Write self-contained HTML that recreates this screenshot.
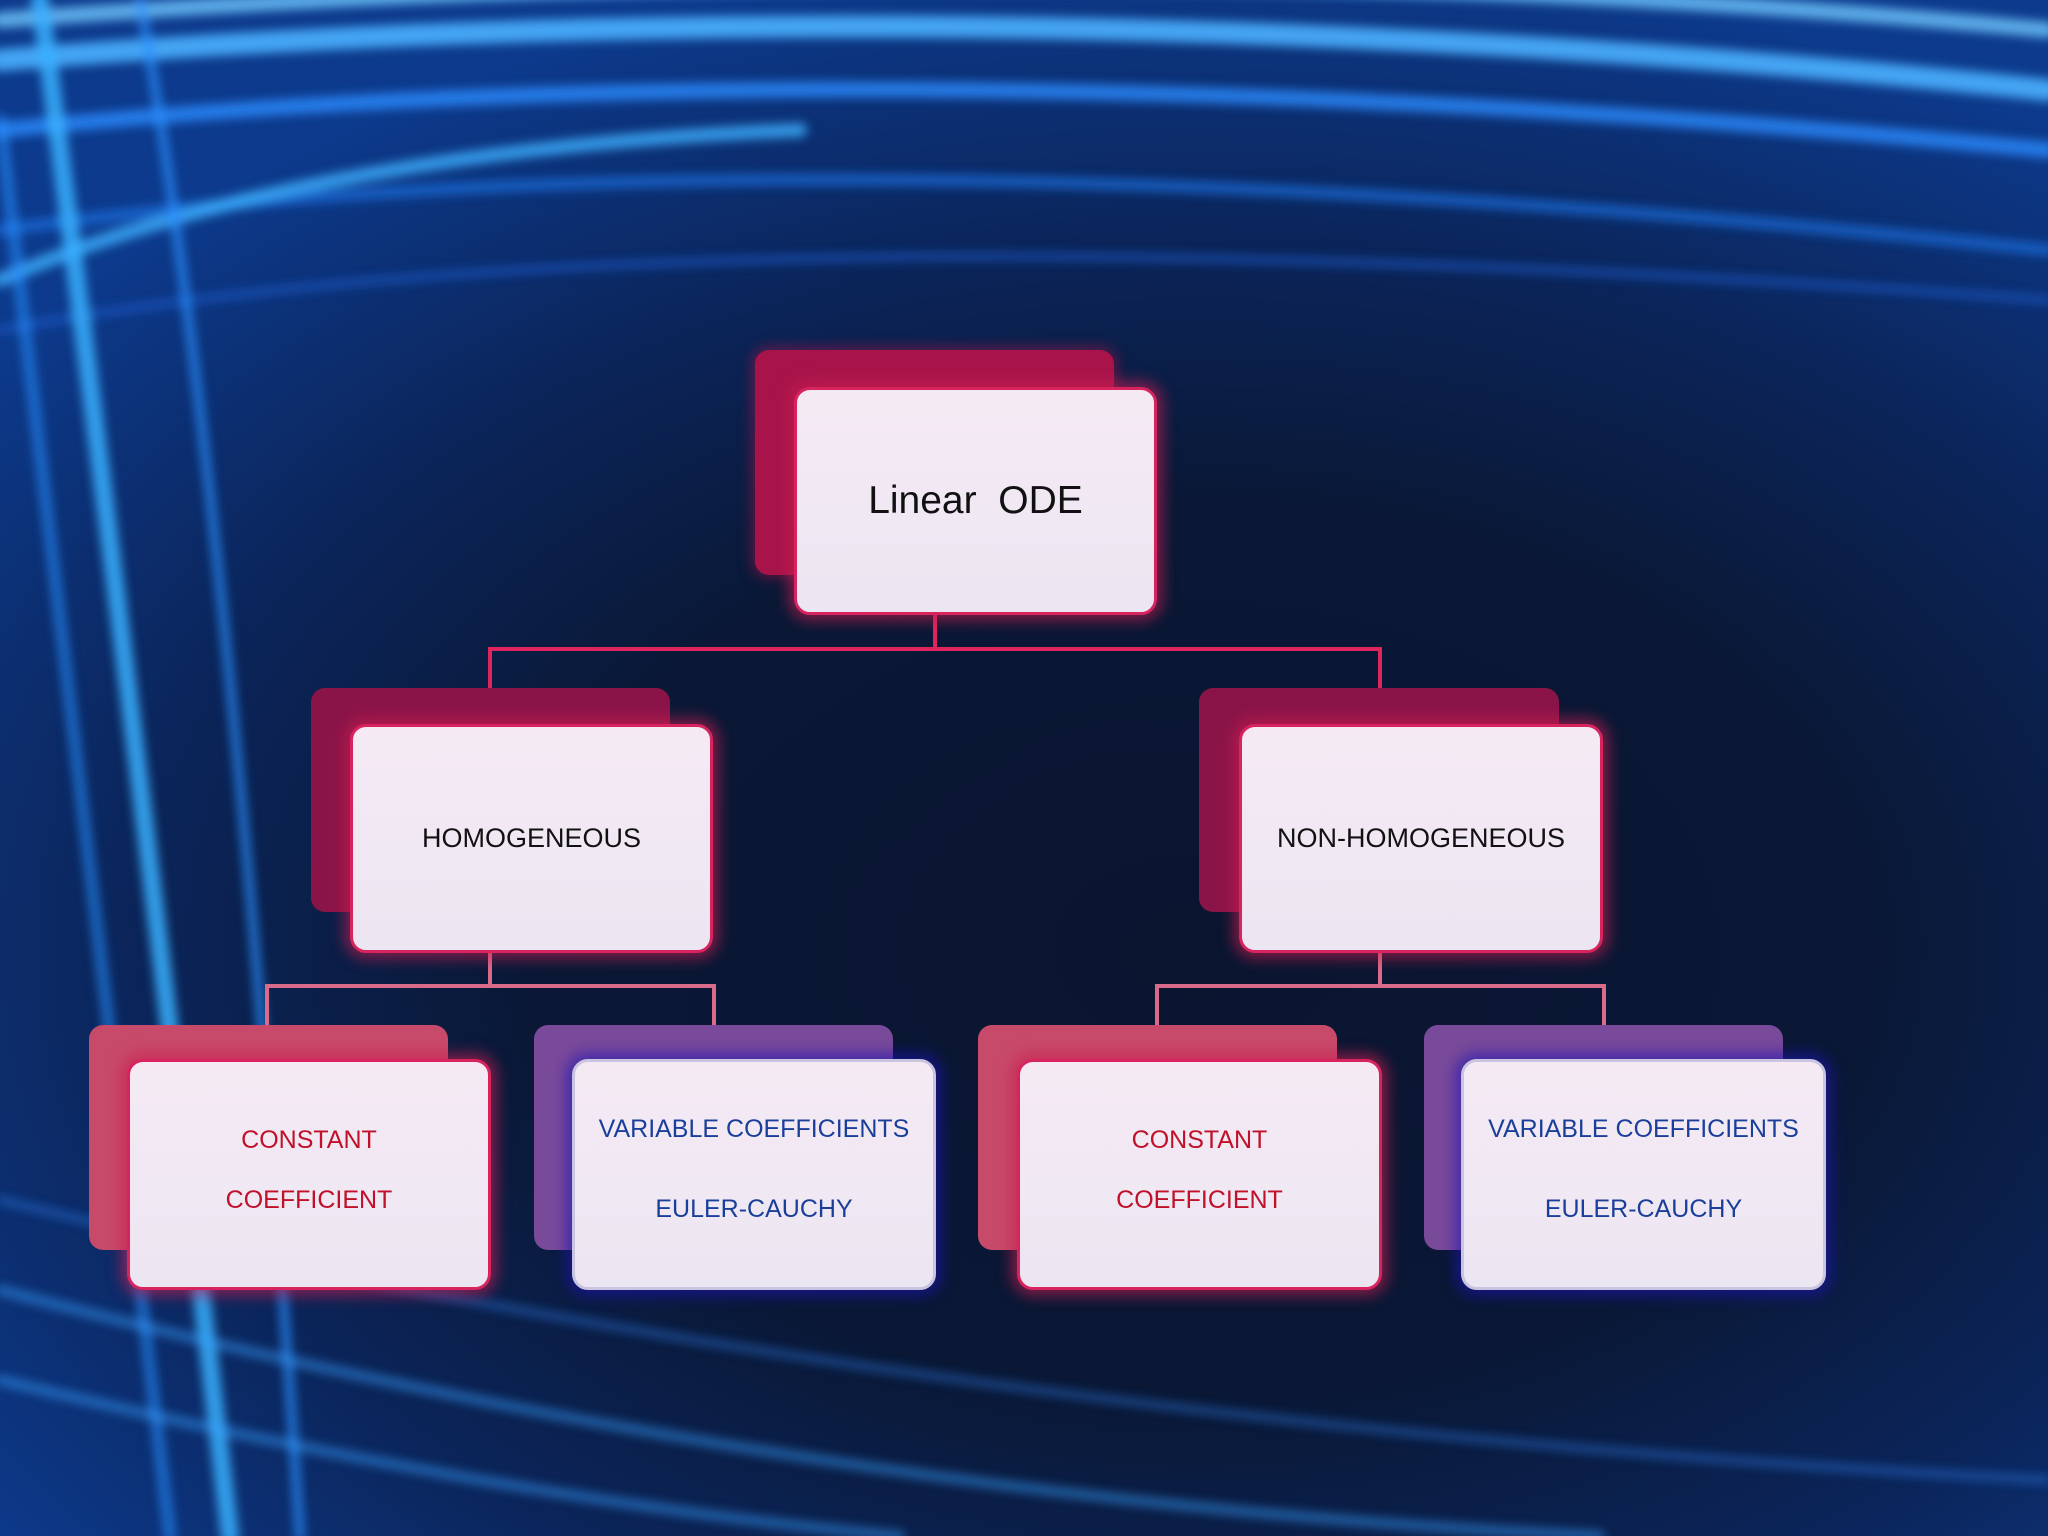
<!DOCTYPE html>
<html><head><meta charset="utf-8"><style>
html,body{margin:0;padding:0}
body{width:2048px;height:1536px;overflow:hidden;position:relative;
background:radial-gradient(ellipse 1500px 1000px at 1200px 950px,#0a1530 0%,#0a1836 45%,#0b2458 70%,#0d3a8c 100%);font-family:"Liberation Sans",sans-serif}
.sh{position:absolute;border-radius:14px}
.bx{position:absolute;border-radius:16px;background:linear-gradient(#f5eaf4,#ece6f2);display:flex;flex-direction:column;align-items:center;justify-content:center;text-align:center;box-sizing:border-box}
.pk{border:3px solid #d8245e;box-shadow:0 0 14px 6px rgba(200,30,80,.6)}
.bl{border:3px solid #c9c4df;box-shadow:0 0 14px 6px rgba(30,20,180,.6)}
.ln{position:absolute;background:#e0245e}
.ln2{position:absolute;background:#d96a8a}
</style></head><body>
<svg width="2048" height="1536" style="position:absolute;left:0;top:0" xmlns="http://www.w3.org/2000/svg">
<defs><filter id="g"><feGaussianBlur stdDeviation="5"/></filter></defs>
<g filter="url(#g)" fill="none" stroke-linecap="round">
<path d="M0 60 Q1000 -20 2048 90" stroke="#4ab0ff" stroke-width="22" opacity=".9"/>
<path d="M0 130 Q900 40 2048 150" stroke="#2c8cff" stroke-width="16" opacity=".8"/>
<path d="M0 230 Q800 120 2048 250" stroke="#1e70e0" stroke-width="12" opacity=".7"/>
<path d="M0 330 Q700 200 2048 300" stroke="#1a5ed0" stroke-width="8" opacity=".6"/>
<path d="M0 20 Q1100 -60 2048 30" stroke="#70c8ff" stroke-width="16" opacity=".8"/>
<path d="M0 280 Q300 150 800 130" stroke="#40b0ff" stroke-width="14" opacity=".8"/>
<path d="M40 0 Q120 600 230 1536" stroke="#3ab0ff" stroke-width="18" opacity=".85"/>
<path d="M140 0 Q230 500 300 1536" stroke="#2a90ff" stroke-width="10" opacity=".7"/>
<path d="M0 120 Q80 800 170 1536" stroke="#2a90ff" stroke-width="12" opacity=".6"/>
<path d="M0 1200 Q900 1420 2048 1480" stroke="#2a80f0" stroke-width="8" opacity=".45"/>
<path d="M0 1290 Q800 1500 1600 1536" stroke="#3aa0ff" stroke-width="10" opacity=".5"/>
<path d="M0 1380 Q500 1500 900 1536" stroke="#3aa0ff" stroke-width="10" opacity=".5"/>
</g></svg>

<div class="ln" style="left:933px;top:615px;width:4px;height:34px"></div>
<div class="ln" style="left:488px;top:647px;width:894px;height:4px"></div>
<div class="ln" style="left:488px;top:647px;width:4px;height:77px"></div>
<div class="ln" style="left:1378px;top:647px;width:4px;height:77px"></div>
<div class="ln2" style="left:488px;top:953px;width:4px;height:33px"></div>
<div class="ln2" style="left:265px;top:984px;width:451px;height:4px"></div>
<div class="ln2" style="left:265px;top:984px;width:4px;height:75px"></div>
<div class="ln2" style="left:712px;top:984px;width:4px;height:75px"></div>
<div class="ln2" style="left:1378px;top:953px;width:4px;height:33px"></div>
<div class="ln2" style="left:1155px;top:984px;width:451px;height:4px"></div>
<div class="ln2" style="left:1155px;top:984px;width:4px;height:75px"></div>
<div class="ln2" style="left:1602px;top:984px;width:4px;height:75px"></div>

<div class="sh" style="left:755px;top:350px;width:359px;height:225px;background:#a8144a;box-shadow:0 0 12px 4px rgba(160,20,70,.5)"></div>
<div class="bx pk" style="left:794px;top:387px;width:363px;height:228px;font-size:39px;color:#111">Linear&nbsp; ODE</div>

<div class="sh" style="left:311px;top:688px;width:359px;height:224px;background:#8a1448"></div>
<div class="bx pk" style="left:350px;top:724px;width:363px;height:229px;font-size:27px;color:#111">HOMOGENEOUS</div>
<div class="sh" style="left:1199px;top:688px;width:360px;height:224px;background:#8a1448"></div>
<div class="bx pk" style="left:1239px;top:724px;width:364px;height:229px;font-size:27px;color:#111">NON-HOMOGENEOUS</div>

<div class="sh" style="left:89px;top:1025px;width:359px;height:225px;background:#c84a6a"></div>
<div class="bx pk" style="left:127px;top:1059px;width:364px;height:231px;font-size:25px;color:#c0102a;line-height:60px;padding-bottom:10px">CONSTANT<br>COEFFICIENT</div>
<div class="sh" style="left:534px;top:1025px;width:359px;height:225px;background:#7a4a9a"></div>
<div class="bx bl" style="left:572px;top:1059px;width:364px;height:231px;font-size:25px;color:#1a3f9a;line-height:80px;padding-bottom:12px">VARIABLE COEFFICIENTS<br>EULER-CAUCHY</div>
<div class="sh" style="left:978px;top:1025px;width:359px;height:225px;background:#c84a6a"></div>
<div class="bx pk" style="left:1017px;top:1059px;width:365px;height:231px;font-size:25px;color:#c0102a;line-height:60px;padding-bottom:10px">CONSTANT<br>COEFFICIENT</div>
<div class="sh" style="left:1424px;top:1025px;width:359px;height:225px;background:#7a4a9a"></div>
<div class="bx bl" style="left:1461px;top:1059px;width:365px;height:231px;font-size:25px;color:#1a3f9a;line-height:80px;padding-bottom:12px">VARIABLE COEFFICIENTS<br>EULER-CAUCHY</div>
</body></html>
